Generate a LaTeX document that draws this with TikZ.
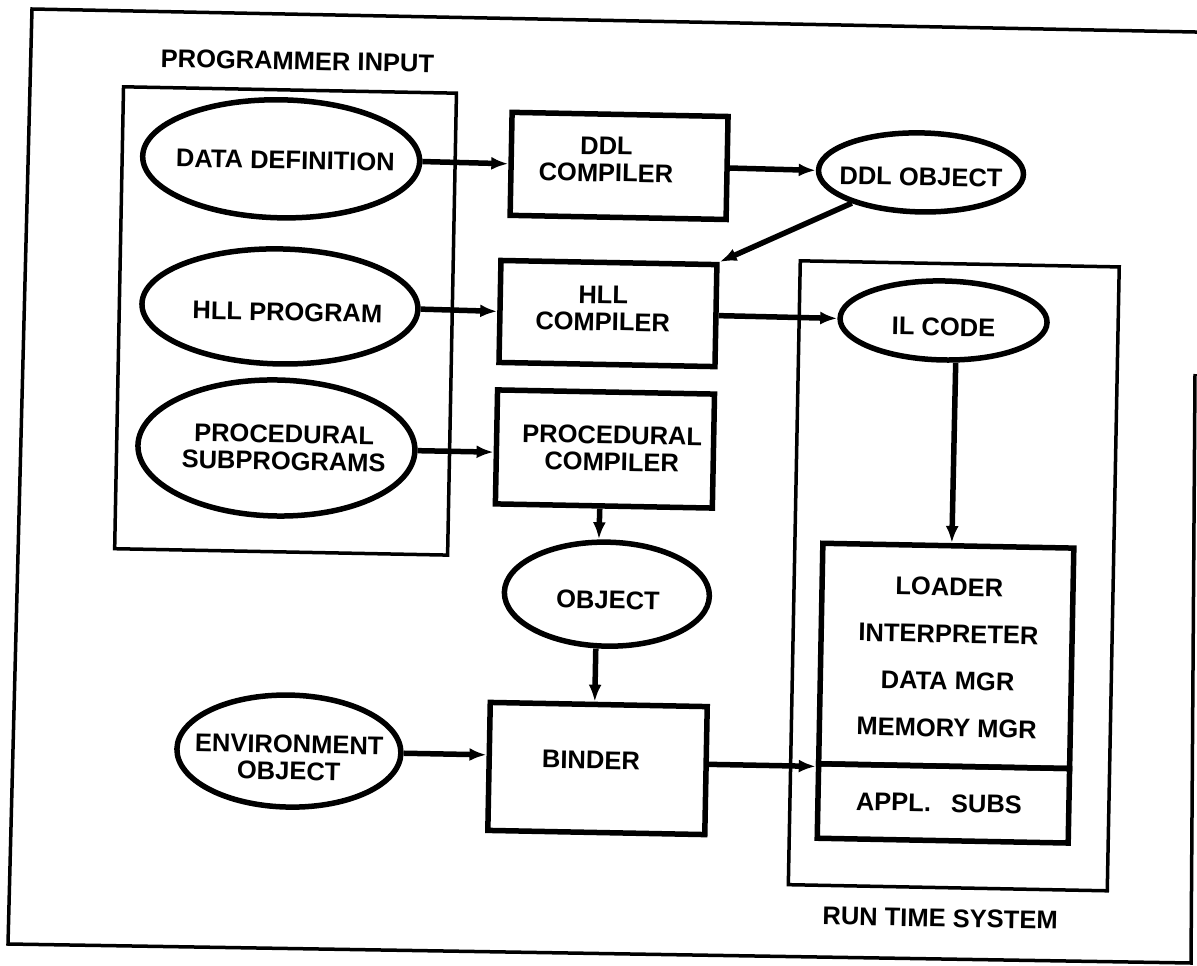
\documentclass[tikz,border=0pt]{standalone}
\usepackage{fontspec}
\setmainfont{Liberation Sans}
\usetikzlibrary{shapes.geometric,arrows.meta,calc}

\begin{document}
\begin{tikzpicture}[x=1pt,y=-1pt,
  heavy/.style={line width=5.5pt},
  light/.style={line width=3.5pt},
  oval/.style={ellipse, draw, heavy, inner sep=0pt},
  blk/.style={rectangle, draw, heavy, inner sep=0pt},
  group/.style={rectangle, draw, light, inner sep=0pt},
  txt/.style={font=\fontsize{25.5}{27}\selectfont\bfseries, align=center, inner sep=0pt},
  flow/.style={heavy, -{Latex[length=17pt,width=13pt]}},
]
\useasboundingbox (0,0) rectangle (1197,966);

% page frame
\draw[light, line join=miter] (1200,32.1) -- (32,9) -- (8,944) -- (1191,963) -- (1195,374);

\begin{scope}[rotate around={-1.1:(600,483)}, transform shape]

  % programmer input group
  \node[group, minimum width=333pt, minimum height=462pt] (pibox) at (282.5,327) {};
  \node[txt] (pilabel) at (289.4,66.8) {PROGRAMMER INPUT};

  \node[oval, minimum width=277pt, minimum height=118pt] (datadef) at (275,165) {};
  \node[txt] (datadeft) at (279.3,166.1) {DATA DEFINITION};

  \node[oval, minimum width=276pt, minimum height=115pt] (hllprog) at (276.6,312.6) {};
  \node[txt] (hllprogt) at (284.2,318) {HLL PROGRAM};

  \node[oval, minimum width=277pt, minimum height=136pt] (procsub) at (275.8,454.2) {};
  \node[txt] (procsubt) at (283.3,453.7) {PROCEDURAL\\SUBPROGRAMS};

  % compilers
  \node[blk, minimum width=216pt, minimum height=103pt] (ddlcomp) at (613,165.6) {};
  \node[txt] (ddlcompt) at (600,159.4) {DDL\\COMPILER};

  \node[blk, minimum width=216pt, minimum height=102pt] (hllcomp) at (604.7,313.4) {};
  \node[txt] (hllcompt) at (599.6,308.4) {HLL\\COMPILER};

  \node[blk, minimum width=217pt, minimum height=114pt] (proccomp) at (604.3,448.9) {};
  \node[txt] (proccompt) at (611.3,448.3) {PROCEDURAL\\COMPILER};

  % objects
  \node[oval, minimum width=205pt, minimum height=79pt] (ddlobj) at (915,166.3) {};
  \node[txt] (ddlobjt) at (915.1,170.8) {DDL OBJECT};

  \node[oval, minimum width=205pt, minimum height=104pt] (object) at (609,594) {};
  \node[txt] (objectt) at (610.2,600) {OBJECT};

  \node[oval, minimum width=224pt, minimum height=112pt] (envobj) at (294.1,757) {};
  \node[txt] (envobjt) at (294.3,763.5) {ENVIRONMENT\\OBJECT};

  \node[blk, minimum width=217pt, minimum height=128pt] (binder) at (603,768.5) {};
  \node[txt] (bindert) at (596.3,760.2) {BINDER};

  % run time system group
  \node[group, minimum width=319pt, minimum height=624pt] (rtsbox) at (955.5,569) {};
  \node[txt] (rtslabel) at (948.4,911.5) {RUN TIME SYSTEM};

  \node[oval, minimum width=207pt, minimum height=79pt] (ilcode) at (940.4,313.9) {};
  \node[txt] (ilcodet) at (940.5,320.4) {IL CODE};

  \node[blk, minimum width=251pt, minimum height=220.5pt] (mgrs) at (949.5,649.25) {};
  \node[blk, minimum width=251pt, minimum height=74.5pt] (subs) at (949.5,796.75) {};
  \node[txt, font=\fontsize{25.5}{47}\selectfont\bfseries] (mgrst) at (951.3,650.7)
    {LOADER\\INTERPRETER\\DATA MGR\\MEMORY MGR};
  \node[txt] (subst) at (945,796.5) {APPL.\hspace{20pt}SUBS};

  % data flow
  \draw[flow] (datadef.east) -- (ddlcomp.west);
  \draw[flow] (ddlcomp.east) -- (ddlobj.west);
  \draw[flow] (ddlobj) -- (hllcomp.north east);
  \draw[flow] (hllprog.east) -- (hllcomp.west);
  \draw[flow] (hllcomp.east) -- (ilcode.west);
  \draw[flow] (procsub.east) -- ($(proccomp.north west)!(procsub.east)!(proccomp.south west)$);
  \draw[flow] ([xshift=-4pt]proccomp.south) -- ([xshift=-9pt]object.north);
  \draw[flow] ([xshift=-10pt]object.south) -- ([xshift=-4pt]binder.north);
  \draw[flow] (envobj.east) -- ($(binder.north west)!(envobj.east)!(binder.south west)$);
  \draw[flow] ([xshift=13pt]ilcode.south) -- ([xshift=3.5pt]mgrs.north);
  \draw[flow] ($(binder.north east)!(mgrs.south west)!(binder.south east)$) -- (mgrs.south west);

\end{scope}
\end{tikzpicture}
\end{document}
